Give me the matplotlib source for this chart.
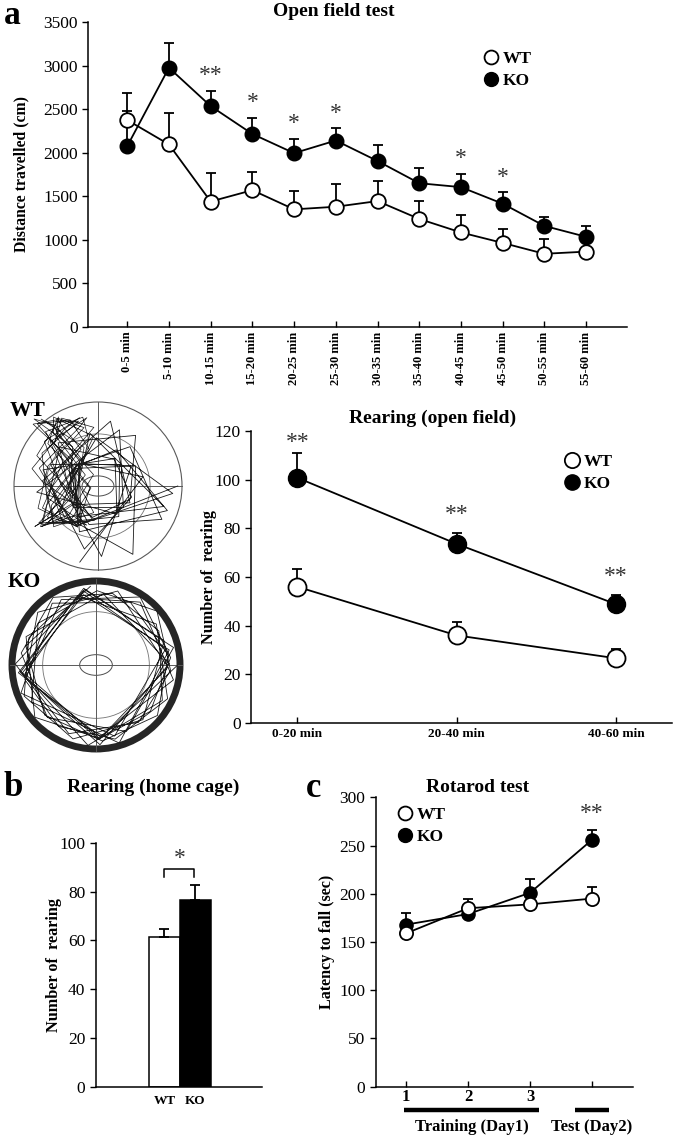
import numpy as np
import matplotlib
matplotlib.use('Agg')
import matplotlib.pyplot as plt
from matplotlib.lines import Line2D
from matplotlib.patches import Circle, Ellipse
import matplotlib.transforms as mtrans

plt.rcParams['font.family'] = ['Liberation Serif', 'DejaVu Serif']

# --- data ---
# a: open field, distance travelled (cm)
of_labels = ['0-5 min', '5-10 min', '10-15 min', '15-20 min', '20-25 min', '25-30 min',
             '30-35 min', '35-40 min', '40-45 min', '45-50 min', '50-55 min', '55-60 min']
of_wt = [2375, 2095, 1440, 1570, 1350, 1380, 1445, 1240, 1085, 965, 840, 865]
of_wt_err = [310, 360, 330, 210, 210, 265, 230, 205, 205, 160, 170, 40]
of_ko = [2075, 2975, 2535, 2215, 1995, 2140, 1905, 1650, 1605, 1415, 1160, 1035]
of_ko_err = [405, 280, 175, 185, 165, 140, 180, 175, 155, 130, 100, 125]
of_sig = ['', '', '**', '*', '*', '*', '', '', '*', '*', '', '']

# a: rearing in open field
rear_labels = ['0-20 min', '20-40 min', '40-60 min']
rear_wt = [56, 36, 26.6]
rear_wt_err = [7.3, 5.4, 3.8]
rear_ko = [100.8, 73.6, 48.8]
rear_ko_err = [10, 4.6, 4]
rear_sig = ['**', '**', '**']

# b: rearing in home cage
home_groups = ['WT', 'KO']
home_vals = [61.5, 76.6]
home_err = [3.1, 6.2]

# c: rotarod
rot_labels = ['1', '2', '3', '']
rot_wt = [159, 185, 189, 195]
rot_wt_err = [4, 9.4, 4, 12]
rot_ko = [168, 179, 201, 256]
rot_ko_err = [12, 5, 14, 10]
rot_sig = ['', '', '', '**']

W, H = 675, 1139
fig = plt.figure(figsize=(W / 100, H / 100), dpi=100)


def box(x0, y0, x1, y1):
    # pixel box (top-left origin) -> figure fraction rect
    return [x0 / W, 1 - y1 / H, (x1 - x0) / W, (y1 - y0) / H]


def style(ax):
    for s in ['top', 'right']:
        ax.spines[s].set_visible(False)
    for s in ['left', 'bottom']:
        ax.spines[s].set_linewidth(1.1)
    ax.tick_params(axis='y', direction='out', length=4, width=1, labelsize=12.5)
    ax.tick_params(axis='x', direction='in', length=4, width=1)


def group_lines(ax, x, wt, wt_err, ko, ko_err, ms):
    n = len(x)
    ax.errorbar(x, ko, yerr=[np.zeros(n), ko_err], fmt='-o', color='black', mfc='black',
                mec='black', ms=ms, lw=1.3, elinewidth=1.3, capsize=3.5, capthick=1.3, zorder=2)
    ax.errorbar(x, wt, yerr=[np.zeros(n), wt_err], fmt='-o', color='black', mfc='white',
                mec='black', mew=1.3, ms=ms, lw=1.3, elinewidth=1.3, capsize=3.5, capthick=1.3, zorder=3)


def stars(ax, x, tops, sig, off, size=17):
    for xi, t, s in zip(x, tops, sig):
        if s:
            ax.annotate(s, (xi, t), xytext=(0, off), textcoords='offset points',
                        ha='center', va='center', fontsize=size, color='0.2')


def legend(ax, ms, x, y, fs=12.5):
    h = [Line2D([], [], ls='none', marker='o', mfc='white', mec='black', mew=1.3, ms=ms),
         Line2D([], [], ls='none', marker='o', mfc='black', mec='black', ms=ms)]
    ax.legend(h, ['WT', 'KO'], loc='upper left', bbox_to_anchor=(x / W, 1 - y / H),
              bbox_transform=fig.transFigure, frameon=False, handlelength=0.8,
              handletextpad=0.3, labelspacing=0.32, borderpad=0, borderaxespad=0,
              prop={'weight': 'bold', 'size': fs})


# ---------- a: open field distance ----------
ax1 = fig.add_axes(box(88, 22, 627, 327))
x1 = np.arange(1, len(of_labels) + 1)
group_lines(ax1, x1, of_wt, of_wt_err, of_ko, of_ko_err, 10.5)
stars(ax1, x1, np.array(of_ko) + np.array(of_ko_err), of_sig, 11)
ax1.set_xlim(0.06, 12.98)
ax1.set_ylim(0, 3500)
ax1.set_yticks(range(0, 3501, 500))
ax1.set_xticks(x1)
ax1.set_xticklabels(of_labels, rotation=90, fontsize=9, fontweight='bold')
style(ax1)
ax1.set_ylabel('Distance travelled (cm)', fontsize=11.3, fontweight='bold')
ax1.yaxis.set_label_coords(-0.109, 0.5)
legend(ax1, 10, 484, 51)
fig.text(334 / W, 1 - 12 / H, 'Open field test', ha='center', va='center',
         fontsize=14, fontweight='bold')
fig.text(4 / W, 1 - 23.5 / H, 'a', ha='left', va='baseline', fontsize=24, fontweight='bold')

# ---------- a: arena track sketches ----------
axt = fig.add_axes(box(0, 395, 195, 770))
axt.set_xlim(0, 195)
axt.set_ylim(770, 395)
axt.axis('off')


def arena(cx, cy, r, ring_lw, steps, jitter, turn):
    axt.add_patch(Circle((cx, cy), r, fill=False, ec='0.35', lw=0.8))
    axt.add_patch(Circle((cx, cy), r * 0.62, fill=False, ec='0.45', lw=0.6))
    axt.plot([cx - r, cx + r], [cy, cy], color='0.35', lw=0.7)
    axt.plot([cx, cx], [cy - r, cy + r], color='0.35', lw=0.7)
    axt.add_patch(Ellipse((cx, cy), r * 0.38, r * 0.24, fill=False, ec='0.3', lw=0.7))
    k = np.arange(steps)
    ang = np.deg2rad(k * turn + 41 * np.sin(k * 0.53))
    rad = r * (0.95 - jitter * np.abs(np.sin(k * 0.77)))
    axt.plot(cx + rad * np.cos(ang), cy + rad * np.sin(ang), color='0.1', lw=0.6)
    if ring_lw:
        axt.add_patch(Circle((cx, cy), r - 2, fill=False, ec='0.15', lw=ring_lw))


arena(98, 486, 84, 0, 50, 0.6, 97.0)
# extra dense wandering in the left part of the WT arena
kk = np.arange(90)
axt.plot(64 + 24 * np.sin(kk * 1.9) + 8 * np.cos(kk * 0.5),
         472 + 55 * np.sin(kk * 0.83), color='0.1', lw=0.5)
arena(96, 665, 86, 5, 70, 0.12, 67.0)
axt.text(10, 411, 'WT', fontsize=15.5, fontweight='bold', va='center')
axt.text(8, 582, 'KO', fontsize=15.5, fontweight='bold', va='center')

# ---------- a: rearing in open field ----------
ax2 = fig.add_axes(box(251, 431, 672, 723))
x2 = np.arange(1, len(rear_labels) + 1)
group_lines(ax2, x2, rear_wt, rear_wt_err, rear_ko, rear_ko_err, 13)
stars(ax2, x2, np.minimum(np.array(rear_ko) + np.array(rear_ko_err), 108), rear_sig, 13)
ax2.set_xlim(0.71, 3.35)
ax2.set_ylim(0, 120)
ax2.set_yticks(range(0, 121, 20))
ax2.set_xticks(x2)
ax2.set_xticklabels(rear_labels, fontsize=9.5, fontweight='bold')
style(ax2)
ax2.set_ylabel('Number of  rearing', fontsize=11.7, fontweight='bold')
ax2.yaxis.set_label_coords(-0.081, 0.5)
legend(ax2, 11, 565, 454)
fig.text(433 / W, 1 - 418 / H, 'Rearing (open field)', ha='center', va='center',
         fontsize=14, fontweight='bold')

# ---------- b: home cage rearing ----------
ax3 = fig.add_axes(box(95.7, 843, 261.7, 1086.7))
xb = np.arange(len(home_groups))
ax3.bar(xb, home_vals, width=1.0, color=['white', 'black'], edgecolor='black', lw=1.1,
        yerr=[np.zeros(2), home_err], error_kw=dict(ecolor='black', elinewidth=1.3,
                                                     capsize=3.5, capthick=1.3))
ax3.set_xlim(-2.23, 3.16)
ax3.set_ylim(0, 100)
ax3.set_yticks(range(0, 101, 20))
ax3.set_xticks(xb)
ax3.set_xticklabels(home_groups, fontsize=9.5, fontweight='bold')
style(ax3)
ax3.tick_params(axis='x', length=0, pad=6)
ax3.plot([0, 0, 0.97, 0.97], [86.2, 89.2, 89.2, 86.2], color='black', lw=1.1)
ax3.text(0.485, 93.5, '*', ha='center', va='center', fontsize=17, color='0.2')
ax3.set_ylabel('Number of  rearing', fontsize=11.7, fontweight='bold')
ax3.yaxis.set_label_coords(-0.203, 0.5)
fig.text(153 / W, 1 - 787 / H, 'Rearing (home cage)', ha='center', va='center',
         fontsize=14, fontweight='bold')
fig.text(4 / W, 1 - 796 / H, 'b', ha='left', va='baseline', fontsize=25, fontweight='bold')

# ---------- c: rotarod ----------
ax4 = fig.add_axes(box(375.7, 797.3, 633, 1086.7))
x4 = np.arange(1, len(rot_labels) + 1)
group_lines(ax4, x4, rot_wt, rot_wt_err, rot_ko, rot_ko_err, 9.5)
stars(ax4, x4, np.array(rot_ko) + np.array(rot_ko_err), rot_sig, 12)
ax4.set_xlim(0.51, 4.66)
ax4.set_ylim(0, 300)
ax4.set_yticks(range(0, 301, 50))
ax4.set_xticks(x4)
ax4.set_xticklabels(rot_labels, fontsize=12, fontweight='bold')
style(ax4)
ax4.tick_params(axis='x', pad=2)
ax4.set_ylabel('Latency to fall (sec)', fontsize=11.6, fontweight='bold')
ax4.yaxis.set_label_coords(-0.158, 0.5)
legend(ax4, 10, 398, 807)
tr = mtrans.blended_transform_factory(ax4.transData, ax4.transAxes)
ax4.plot([0.97, 3.15], [-0.08, -0.08], color='black', lw=3.2, transform=tr, clip_on=False,
         solid_capstyle='butt')
ax4.plot([3.73, 4.27], [-0.08, -0.08], color='black', lw=3.2, transform=tr, clip_on=False,
         solid_capstyle='butt')
ax4.text(2.06, -0.14, 'Training (Day1)', transform=tr, ha='center', va='center',
         fontsize=12, fontweight='bold')
ax4.text(4.0, -0.14, 'Test (Day2)', transform=tr, ha='center', va='center',
         fontsize=12, fontweight='bold')
fig.text(478 / W, 1 - 787 / H, 'Rotarod test', ha='center', va='center',
         fontsize=14, fontweight='bold')
fig.text(306 / W, 1 - 797 / H, 'c', ha='left', va='baseline', fontsize=25, fontweight='bold')

fig.savefig('out.png', dpi=100)
